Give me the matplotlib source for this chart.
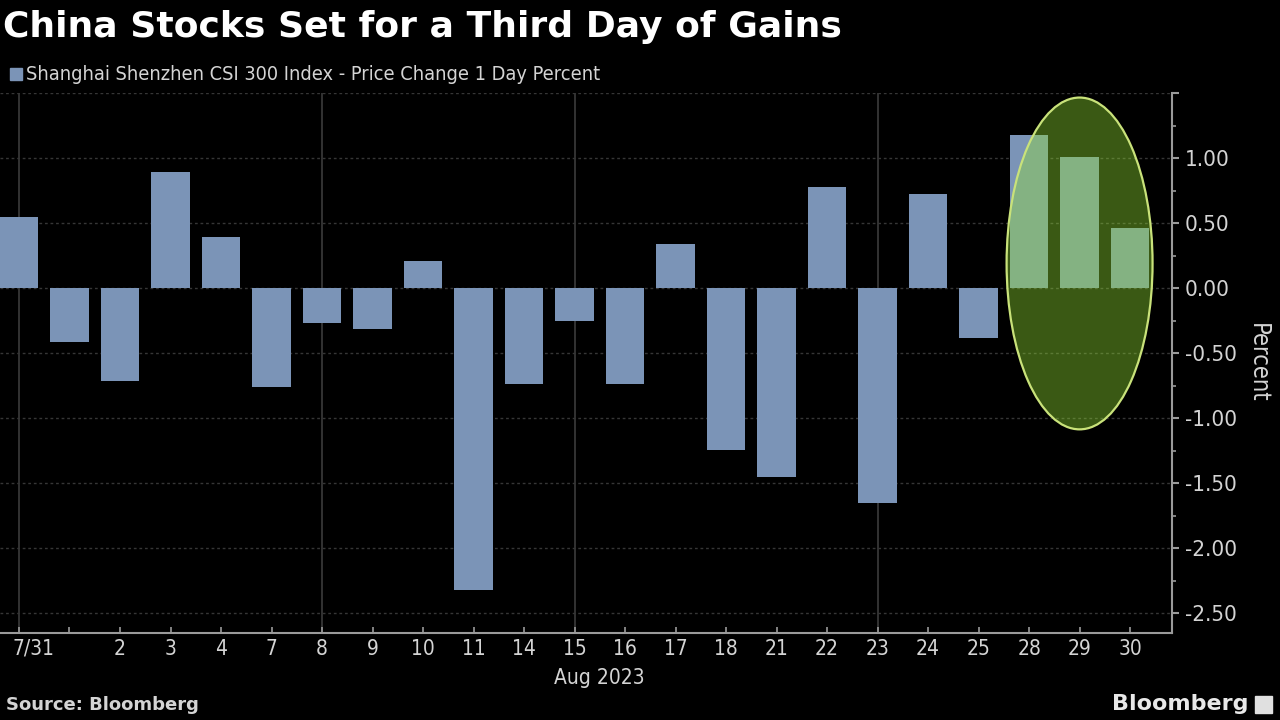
import matplotlib
matplotlib.use("Agg")
import matplotlib.pyplot as plt
from matplotlib.patches import Ellipse, Rectangle
from matplotlib.transforms import ScaledTranslation
import numpy as np

# ============================================================
# DATA
# ============================================================

day_labels = ["7/31", "", "2", "3", "4", "7", "8", "9", "10", "11", "14",
              "15", "16", "17", "18", "21", "22", "23", "24", "25", "28",
              "29", "30"]

pct_change = [0.55, -0.415, -0.71, 0.89, 0.39, -0.76, -0.27, -0.315, 0.21,
              -2.32, -0.74, -0.25, -0.74, 0.34, -1.24, -1.45, 0.78, -1.65,
              0.72, -0.38, 1.18, 1.01, 0.46]

week_lines = ["7/31", "8", "15", "23"]

y_ticks = [1.0, 0.5, 0.0, -0.5, -1.0, -1.5, -2.0, -2.5]

# ============================================================
# STYLE
# ============================================================

bg = "black"
bar_color = "#7b94b7"
text_color = "#d4d4d4"
axis_color = "#9a9a9a"

plt.rcParams["font.family"] = ["DejaVu Sans"]
narrow = dict(fontstretch="condensed")

fig = plt.figure(figsize=(12.8, 7.2), dpi=100, facecolor=bg)
ax = fig.add_axes([0.0, 87 / 720, 1172 / 1280, 540 / 720], facecolor=bg)

x = np.arange(len(pct_change))

ax.bar(x, pct_change, width=0.76, color=bar_color, zorder=2)

# gridlines
for lab in week_lines:
    ax.axvline(day_labels.index(lab), color="#3c3c3c", lw=1.2, zorder=1)
for yv in y_ticks + [1.5]:
    ax.axhline(yv, color="#363636", lw=1.0, ls=(0, (2, 2)), zorder=1)

# highlight ellipse over last three days
ell = Ellipse((21, 0.19), width=2.89, height=2.55,
              facecolor="#93e034", alpha=0.4, edgecolor="none", zorder=3)
ax.add_patch(ell)
ell_edge = Ellipse((21, 0.19), width=2.89, height=2.55,
                   facecolor="none", edgecolor="#c9e27a", lw=1.6, zorder=4)
ax.add_patch(ell_edge)

ax.set_xlim(-0.376, 22.83)
ax.set_ylim(-2.65, 1.5)

# axes
for s in ["left", "top"]:
    ax.spines[s].set_visible(False)
ax.spines["right"].set_color(axis_color)
ax.spines["bottom"].set_color(axis_color)
ax.spines["right"].set_linewidth(1.5)
ax.spines["bottom"].set_linewidth(1.5)

ax.yaxis.tick_right()
ax.yaxis.set_label_position("right")
ax.set_yticks(y_ticks + [1.5])
ax.set_yticklabels([f"{v:.2f}" for v in y_ticks] + [""], **narrow)
ax.set_yticks(np.arange(-2.5, 1.51, 0.25), minor=True)
ax.tick_params(axis="y", which="major", colors=axis_color, labelcolor=text_color,
               labelsize=16, length=5, width=1.5, direction="out", pad=4)
ax.tick_params(axis="y", which="minor", colors=axis_color, length=3,
               width=1.2, direction="out")
ax.set_ylabel("Percent", color=text_color, fontsize=17, rotation=270,
              labelpad=24, **narrow)

ax.set_xticks(x)
ax.set_xticklabels(day_labels, **narrow)
ax.tick_params(axis="x", colors=axis_color, labelcolor=text_color,
               labelsize=15, length=4, width=1.2, direction="in", pad=4)

# first label sits just right of its tick, as in the original
first = ax.get_xticklabels()[0]
first.set_horizontalalignment("left")
first.set_transform(first.get_transform()
                    + ScaledTranslation(-6 / 100, 0, fig.dpi_scale_trans))

ax.text(11.5, -0.065, "Aug 2023", transform=ax.get_xaxis_transform(),
        ha="center", va="top", color=text_color, fontsize=15, **narrow)

# ============================================================
# TITLE / LEGEND / FOOTER
# ============================================================

fig.text(0.002, 0.962, "China Stocks Set for a Third Day of Gains",
         color="white", fontsize=26, fontweight="bold", ha="left", va="center")

fig.patches.append(Rectangle((10 / 1280, 1 - 80 / 720), 12 / 1280, 12 / 720,
                             transform=fig.transFigure, color=bar_color,
                             figure=fig))
fig.text(26 / 1280, 1 - 74 / 720,
         "Shanghai Shenzhen CSI 300 Index - Price Change 1 Day Percent",
         color=text_color, fontsize=14.3, ha="left", va="center", **narrow)

fig.text(6 / 1280, 1 - 705 / 720, "Source: Bloomberg", color=text_color,
         fontsize=13, fontweight="bold", ha="left", va="center")
fig.text(1248 / 1280, 1 - 704 / 720, "Bloomberg", color="#e8e8e8",
         fontsize=16, fontweight="bold", ha="right", va="center")
fig.patches.append(Rectangle((1255 / 1280, 1 - 713 / 720), 17 / 1280,
                             17 / 720, transform=fig.transFigure,
                             color="#e0e0e0", figure=fig))

fig.savefig("out.png", dpi=100, facecolor=bg)
